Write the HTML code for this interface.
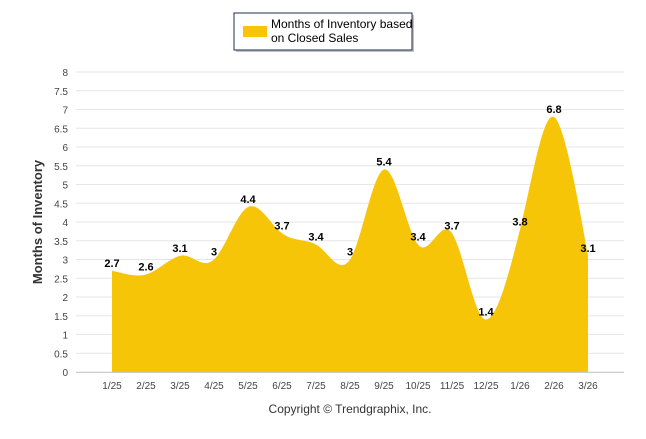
<!DOCTYPE html>
<html><head><meta charset="utf-8"><style>
body{margin:0;background:#fff;font-family:"Liberation Sans",sans-serif}
</style></head><body>
<svg width="646" height="434" xmlns="http://www.w3.org/2000/svg">
<g id="grid"></g>
<path id="area" fill="#F7C508"/>
<g id="labels"></g>
<g id="xt"></g>
<g id="yt"></g>
<text x="42" y="222" transform="rotate(-90 42 222)" text-anchor="middle" font-size="13" font-weight="bold" fill="#333">Months of Inventory</text>
<text x="350" y="413" text-anchor="middle" font-size="12" fill="#333">Copyright © Trendgraphix, Inc.</text>
<g>
<rect x="236" y="15" width="178" height="37" fill="#888" opacity="0.5"/>
<rect x="234" y="13" width="178" height="37" fill="#fff" stroke="#1f2f4f" stroke-width="1"/>
<rect x="243" y="26" width="24" height="11" fill="#F7C508"/>
<text x="271" y="28" font-size="12" fill="#000">Months of Inventory based</text>
<text x="271" y="42" font-size="12" fill="#000">on Closed Sales</text>
</g>
</svg>
<script>
const categories=["1/25","2/25","3/25","4/25","5/25","6/25","7/25","8/25","9/25","10/25","11/25","12/25","1/26","2/26","3/26"];
const values=[2.7,2.6,3.1,3,4.4,3.7,3.4,3,5.4,3.4,3.7,1.4,3.8,6.8,3.1];
const yTicks=[0,0.5,1,1.5,2,2.5,3,3.5,4,4.5,5,5.5,6,6.5,7,7.5,8];
const NS="http://www.w3.org/2000/svg";
const X=i=>112+i*34, Y=v=>372-v*37.5;
function mk(t,a,p,txt){const e=document.createElementNS(NS,t);for(const k in a)e.setAttribute(k,a[k]);if(txt!=null)e.textContent=txt;p.appendChild(e);return e;}
const grid=document.getElementById('grid'),yt=document.getElementById('yt'),xt=document.getElementById('xt'),lab=document.getElementById('labels');
yTicks.forEach(v=>{
 const l=mk('line',{x1:76,x2:624,y1:Y(v),y2:Y(v),stroke:'#e6e6e6'},grid);
 
 
 const t=mk('text',{x:68,y:Y(v)+4,'text-anchor':'end','font-size':10,fill:'#444'},yt,String(v));
 
 
});
mk('line',{x1:76,x2:624,y1:372.5,y2:372.5,stroke:'#ccc'},xt);
categories.forEach((c,i)=>{
 const t=mk('text',{x:X(i),y:389,'text-anchor':'middle','font-size':10,fill:'#444'},xt,c);
 
 
});
const pts=values.map((v,i)=>[X(i),Y(v)]);
let d=`M${pts[0][0]},${Y(0)}L${pts[0][0]},${pts[0][1]}`;
const s=1.5;
for(let i=0;i<pts.length-1;i++){
 const p0=pts[i-1]||pts[i],p1=pts[i],p2=pts[i+1],p3=pts[i+2]||p2;
 const c1=[p1[0]+(p2[0]-p0[0])/(3*s)*0.75+0, p1[1]+(p2[1]-p0[1])/(3*s)];
 const c2=[p2[0]-(p3[0]-p1[0])/(3*s)*0.75, p2[1]-(p3[1]-p1[1])/(3*s)];
 d+=`C${c1[0]},${c1[1]} ${c2[0]},${c2[1]} ${p2[0]},${p2[1]}`;
}
d+=`L${pts[pts.length-1][0]},${Y(0)}Z`;
document.getElementById('area').setAttribute('d',d);
values.forEach((v,i)=>{
 const t=mk('text',{x:X(i),y:Y(v)-4,'text-anchor':'middle','font-size':11,'font-weight':'bold',fill:'#000'},lab,String(v));
 
 
});
</script>
</body></html>
